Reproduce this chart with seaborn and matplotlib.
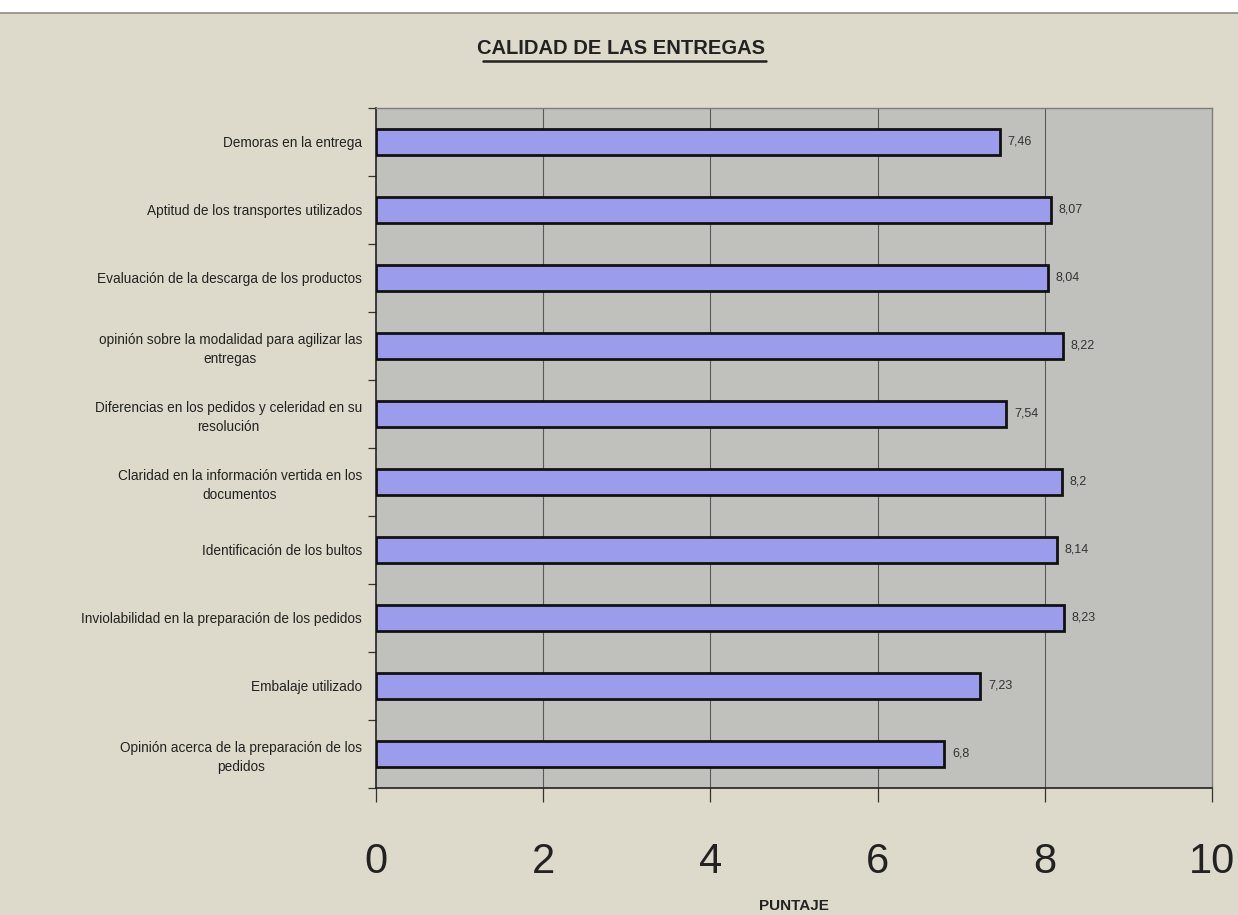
import matplotlib
matplotlib.use("Agg")
import matplotlib.pyplot as plt
import matplotlib.patches as mpatches
import seaborn as sns
import pandas as pd

# Survey categories (top to bottom) and their average scores
categorias = [
    "Demoras en la entrega",
    "Aptitud de los transportes utilizados",
    "Evaluación de la descarga de los productos",
    "opinión sobre la modalidad para agilizar las\nentregas",
    "Diferencias en los pedidos y celeridad en su\nresolución",
    "Claridad en la información vertida en los\ndocumentos",
    "Identificación de los bultos",
    "Inviolabilidad en la preparación de los pedidos",
    "Embalaje utilizado",
    "Opinión acerca de la preparación de los\npedidos",
]
puntajes = [7.46, 8.07, 8.04, 8.22, 7.54, 8.20, 8.14, 8.23, 7.23, 6.80]
etiquetas = ["7,46", "8,07", "8,04", "8,22", "7,54", "8,2", "8,14", "8,23", "7,23", "6,8"]
ticks_x = [0, 2, 4, 6, 8, 10]

df = pd.DataFrame({"categoria": categorias, "puntaje": puntajes})

sns.set_theme(style="white")
plt.rcParams["font.family"] = ["Liberation Sans", "DejaVu Sans"]

fondo = "#dedacb"
area = "#c0c0bc"
barra = "#9c9cec"

fig = plt.figure(figsize=(12.38, 9.15), dpi=100, facecolor=fondo)

# white margin strip at the top of the page with a thin grey rule
fig.patches.append(mpatches.Rectangle((0, 0.986), 1, 0.014, transform=fig.transFigure,
                                      facecolor="white", edgecolor="none", zorder=0))
fig.lines.append(plt.Line2D([0, 1], [0.986, 0.986], transform=fig.transFigure,
                            color="#8a8a8a", lw=1.2))

ax = fig.add_axes([0.3037, 0.1388, 0.6753, 0.7432])
ax.set_facecolor(area)

sns.barplot(data=df, y="categoria", x="puntaje", orient="h", ax=ax,
            color=barra, saturation=1, width=0.39,
            edgecolor="#111111", linewidth=2.0, zorder=3)

ax.set_xlim(0, 10)
ax.set_ylim(len(categorias) - 0.5, -0.5)

# vertical gridlines at the major x ticks
ax.set_xticks(ticks_x)
ax.set_xticklabels([str(t) for t in ticks_x])
for t in ticks_x[1:-1]:
    ax.axvline(t, color="#5a5a5a", lw=0.8, zorder=1)

# value labels at the end of each bar
for i, (v, txt) in enumerate(zip(puntajes, etiquetas)):
    ax.text(v + 0.09, i, txt, va="center", ha="left", fontsize=9, color="#333333", zorder=4)

# category ticks sit between the bars
ax.set_yticks(range(len(categorias)))
ax.set_yticklabels(categorias, fontsize=9.8, color="#222222",
                   multialignment="center", linespacing=1.4)
ax.set_yticks([i + 0.5 for i in range(-1, len(categorias))], minor=True)
ax.tick_params(axis="y", which="major", length=0, pad=10)
ax.tick_params(axis="y", which="minor", length=6, width=0.9, color="#333333", direction="out", left=True)
ax.tick_params(axis="x", which="major", length=10, width=0.9, color="#333333",
               direction="out", bottom=True, labelsize=30, pad=29, labelcolor="#222222")

for s in ["left", "bottom"]:
    ax.spines[s].set_color("#222222")
    ax.spines[s].set_linewidth(1.2)
for s in ["top", "right"]:
    ax.spines[s].set_color("#7d7d7d")
    ax.spines[s].set_linewidth(1.0)

ax.set_ylabel("")
ax.set_xlabel("PUNTAJE", fontsize=11, fontweight="bold", color="#222222", labelpad=12)

fig.text(0.5015, 0.947, "CALIDAD DE LAS ENTREGAS", ha="center", va="center",
         fontsize=14.5, fontweight="bold", color="#222222")
# underline beneath the title
fig.lines.append(plt.Line2D([0.390, 0.619], [0.933, 0.933], transform=fig.transFigure,
                            color="#222222", lw=1.8))

fig.savefig("out.png", dpi=100, facecolor=fondo)
